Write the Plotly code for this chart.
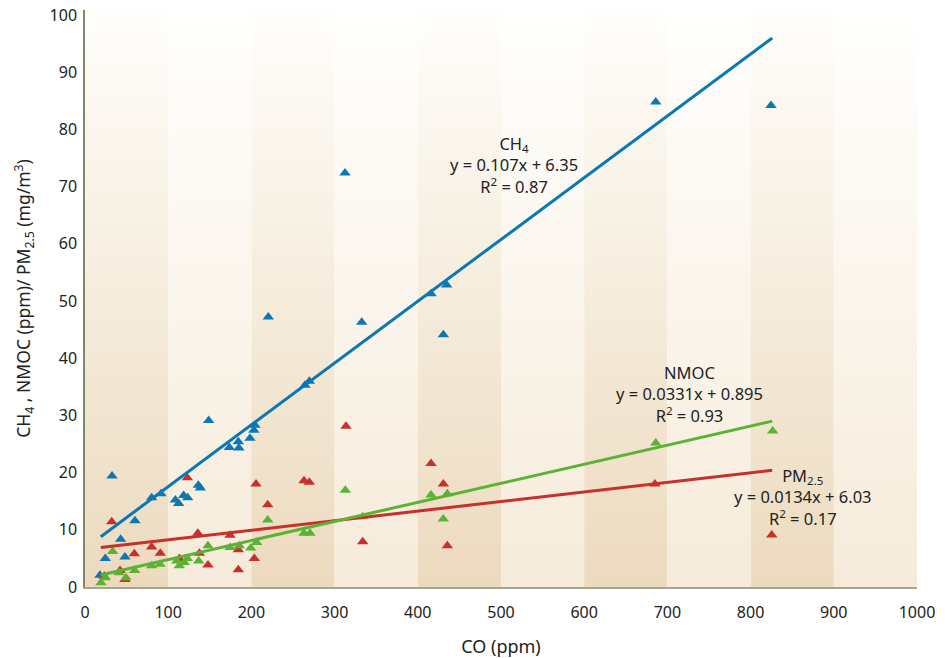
import plotly.graph_objects as go

# CO (ppm) for each sample, per series
ch4_x = [18, 24.4, 32.5, 42.9, 48, 60, 80.1, 91.3, 108.6, 112.6, 118.6, 123.4, 136.2, 138.6,
         148.6, 173.5, 184.3, 185, 198.3, 203, 204.3, 220.3, 264.4, 269.6, 312.5, 332.6,
         415.9, 430.7, 434.7, 686, 824.5]
ch4_y = [2.05, 5.0, 19.4, 8.35, 5.25, 11.6, 15.6, 16.3, 15.2, 14.6, 16.0, 15.6, 17.8, 17.3,
         29.1, 24.4, 25.4, 24.3, 26.0, 27.4, 28.3, 47.2, 35.3, 36.0, 72.4, 46.3,
         51.3, 44.1, 52.8, 84.8, 84.2]

nmoc_x = [19.2, 24.4, 33.3, 40.9, 49.3, 59.7, 80.1, 90.1, 110.2, 113.4, 119.4, 123, 136.6,
          147.8, 174.3, 185.5, 199.2, 206.3, 219.6, 263.2, 270.4, 312.9, 333.8, 415.9,
          430.7, 435.5, 686, 826.5]
nmoc_y = [0.75, 1.6, 6.2, 2.5, 1.6, 2.9, 3.7, 4.0, 4.55, 3.7, 4.3, 5.0, 4.55, 7.2, 6.9, 7.2,
          6.8, 7.8, 11.7, 9.4, 9.4, 16.9, 12.3, 16.1, 11.9, 16.3, 25.2, 27.3]

pm_x = [23.2, 32.1, 42.1, 48, 59.3, 80.1, 90.5, 113.4, 123, 135.6, 137.5, 147.8, 174.3,
        184.3, 184.3, 203.5, 205.5, 219.6, 263.2, 269.6, 313.7, 333.8, 415.9, 430.7,
        435.5, 685, 825.4]
pm_y = [1.9, 11.4, 2.9, 1.3, 5.8, 7.0, 5.9, 5.0, 19.1, 9.4, 5.9, 3.85, 9.05, 6.5, 3.0,
        5.0, 18.0, 14.4, 18.6, 18.3, 28.1, 7.9, 21.6, 18.0, 7.2, 18.0, 9.1]

# Trend lines as drawn (endpoints)
trend_x = [19, 826]
ch4_trend = [8.8, 96.0]
nmoc_trend = [2.1, 29.0]
pm_trend = [6.9, 20.4]

band_edges = [0, 100, 200, 300, 400, 500, 600, 700, 800, 900, 1000]
x_ticks = [0, 100, 200, 300, 400, 500, 600, 700, 800, 900, 1000]
y_ticks = [0, 10, 20, 30, 40, 50, 60, 70, 80, 90, 100]

BLUE = "#0B78B4"
GREEN = "#5BB336"
RED = "#C8302B"
FONT = "Noto Sans"

fig = go.Figure()

# background bands with vertical gradient
for i in range(len(band_edges) - 1):
    x0, x1 = band_edges[i], band_edges[i + 1]
    dark = (i % 2 == 0)
    bottom = "rgb(236,218,190)" if dark else "rgb(246,235,218)"
    top = "rgb(255,254,251)" if dark else "rgb(255,255,254)"
    fig.add_trace(go.Scatter(
        x=[x0, x1, x1, x0, x0], y=[0, 0, 100.9, 100.9, 0],
        mode="lines", line=dict(width=0), fill="toself",
        fillgradient=dict(type="vertical", colorscale=[[0, bottom], [1, top]]),
        hoverinfo="skip", showlegend=False))

for x, y, c in [(ch4_x, ch4_y, BLUE), (pm_x, pm_y, RED), (nmoc_x, nmoc_y, GREEN)]:
    fig.add_trace(go.Scatter(x=x, y=y, mode="markers",
                             marker=dict(symbol="triangle-up", size=10, color=c),
                             showlegend=False))

for ty, c in [(ch4_trend, BLUE), (pm_trend, RED), (nmoc_trend, GREEN)]:
    fig.add_trace(go.Scatter(x=trend_x, y=ty, mode="lines",
                             line=dict(color=c, width=3), showlegend=False))

ann_font = dict(family=FONT, size=16.5, color="#222222")
fig.add_annotation(x=515.6, y=73.8, text="CH<sub>4</sub><br>y = 0.107x + 6.35<br>R<sup>2</sup> = 0.87",
                   showarrow=False, font=ann_font, align="center")
fig.add_annotation(x=727, y=33.7, text="NMOC<br>y = 0.0331x + 0.895<br>R<sup>2</sup> = 0.93",
                   showarrow=False, font=ann_font, align="center")
fig.add_annotation(x=863, y=15.7, text="PM<sub>2.5</sub><br>y = 0.0134x + 6.03<br>R<sup>2</sup> = 0.17",
                   showarrow=False, font=ann_font, align="center")

fig.update_layout(
    width=951, height=658,
    margin=dict(l=85, r=34, t=10, b=71),
    paper_bgcolor="white", plot_bgcolor="white",
    font=dict(family=FONT, size=16, color="#222222"),
    xaxis=dict(range=[0, 1000], tickvals=x_ticks, showgrid=False, zeroline=False,
               showline=True, linecolor="#A4A690", linewidth=2, ticks="",
               automargin=False, ticklabelstandoff=10,
               title=dict(text="CO (ppm)", font=dict(size=18), standoff=26),
               tickfont=dict(size=16)),
    yaxis=dict(range=[0, 100.9], tickvals=y_ticks, showgrid=False, zeroline=False,
               showline=True, linecolor="#7F866C", linewidth=1.5, ticks="",
               automargin=False, ticklabelstandoff=3,
               title=dict(text="CH<sub>4</sub> , NMOC (ppm)/ PM<sub>2.5</sub> (mg/m<sup>3</sup>)",
                          font=dict(size=17.5), standoff=14),
               tickfont=dict(size=16)),
)

fig.write_html("out.html", config={"displayModeBar": False},
               post_script="document.body.style.margin='0';")
